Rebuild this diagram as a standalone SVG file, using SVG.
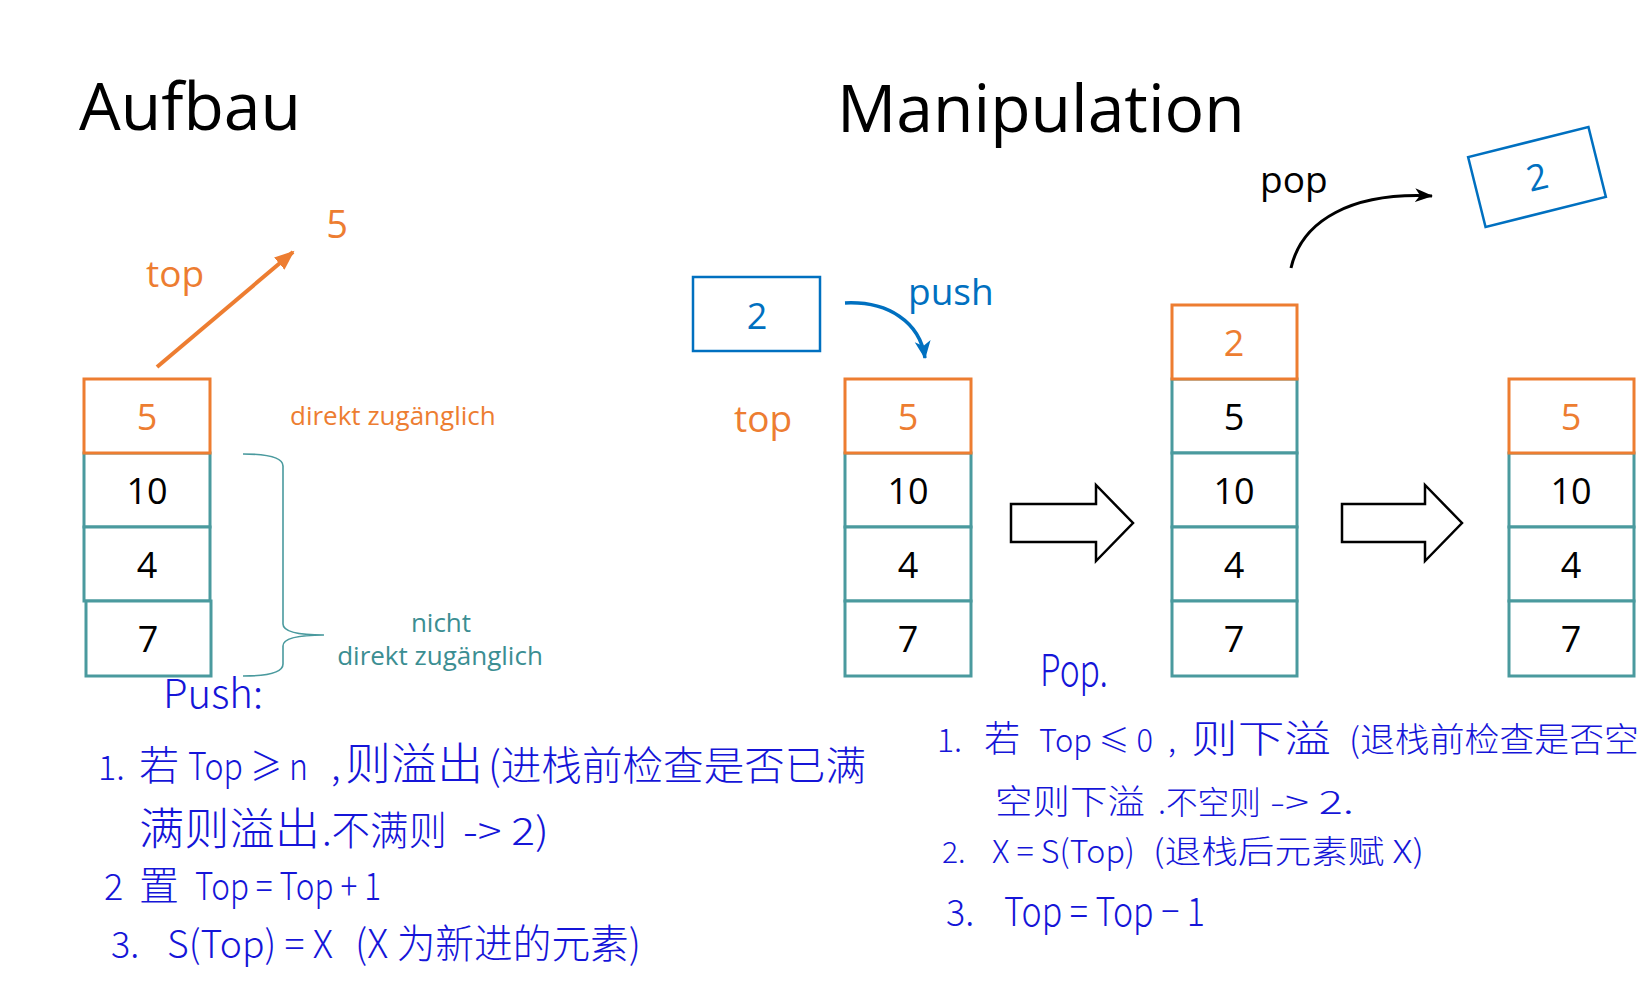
<svg xmlns="http://www.w3.org/2000/svg" width="1652" height="999" viewBox="0 0 1652 999">
<defs>
<style>
.lat{font-family:"Open Sans","Liberation Sans",sans-serif}
.title{font-size:66px;fill:#000}
.num{font-size:36px;text-anchor:middle}
.lbl{font-size:37px}
.or{fill:#ED7D31}
.bk{fill:#000}
.bl{fill:#0070C0}
.tl{fill:#3B8E92}
.bo{fill:#fff;stroke:#ED7D31;stroke-width:3}
.bt{fill:#fff;stroke:#4A9A9E;stroke-width:3}
.bb{fill:#fff;stroke:#0070C0;stroke-width:2.5}
.hw{font-family:"Noto Sans CJK SC","Noto Sans",sans-serif;fill:#1515D8;font-weight:300}
</style>
<marker id="mOr" markerUnits="userSpaceOnUse" markerWidth="22" markerHeight="18" refX="18" refY="9" orient="auto"><path d="M0,1 L20,9 L0,17 z" fill="#ED7D31"/></marker>
<marker id="mBl" markerUnits="userSpaceOnUse" markerWidth="20" markerHeight="18" refX="17" refY="9" orient="auto"><path d="M0,1 L18,9 L0,17 L5,9 z" fill="#0070C0"/></marker>
<marker id="mBk" markerUnits="userSpaceOnUse" markerWidth="20" markerHeight="18" refX="17" refY="9" orient="auto"><path d="M0,2 L18,9 L0,16 L5,9 z" fill="#000"/></marker>
</defs>
<rect width="1652" height="999" fill="#fff"/>

<g id="titles" class="lat">
<text class="title" x="79" y="130">Aufbau</text>
<text class="title" x="837" y="132">Manipulation</text>
</g>

<g id="stack1" class="lat">
<rect class="bt" x="84" y="453" width="126" height="74"/>
<rect class="bt" x="84" y="527" width="126" height="74"/>
<rect class="bt" x="86" y="601" width="125" height="75"/>
<rect class="bo" x="84" y="379" width="126" height="74"/>
<text class="num or" x="147" y="430">5</text>
<text class="num bk" x="147" y="504">10</text>
<text class="num bk" x="147" y="578">4</text>
<text class="num bk" x="148" y="652">7</text>
</g>

<g id="labels-left" class="lat">
<text class="lbl or" x="146" y="287">top</text>
<text class="or" x="337" y="238" font-size="38" text-anchor="middle">5</text>
<text class="or" x="290" y="425" font-size="26">direkt zugänglich</text>
<text class="tl" x="441" y="632" font-size="26" text-anchor="middle">nicht</text>
<text class="tl" x="440" y="665" font-size="26" text-anchor="middle">direkt zugänglich</text>
</g>

<g id="box-push" class="lat">
<rect class="bb" x="693" y="277" width="127" height="74"/>
<text class="num bl" x="757" y="329">2</text>
</g>

<g id="labels-mid" class="lat">
<text class="lbl bl" x="908" y="305">push</text>
<text class="lbl or" x="734" y="432">top</text>
<text class="lbl bk" x="1260" y="193">pop</text>
</g>

<g id="stack2" class="lat">
<rect class="bt" x="845" y="453" width="126" height="74"/>
<rect class="bt" x="845" y="527" width="126" height="74"/>
<rect class="bt" x="845" y="601" width="126" height="75"/>
<rect class="bo" x="845" y="379" width="126" height="74"/>
<text class="num or" x="908" y="430">5</text>
<text class="num bk" x="908" y="504">10</text>
<text class="num bk" x="908" y="578">4</text>
<text class="num bk" x="908" y="652">7</text>
</g>

<g id="stack3" class="lat">
<rect class="bt" x="1172" y="379" width="125" height="74"/>
<rect class="bt" x="1172" y="453" width="125" height="74"/>
<rect class="bt" x="1172" y="527" width="125" height="74"/>
<rect class="bt" x="1172" y="601" width="125" height="75"/>
<rect class="bo" x="1172" y="305" width="125" height="74"/>
<text class="num or" x="1234" y="356">2</text>
<text class="num bk" x="1234" y="430">5</text>
<text class="num bk" x="1234" y="504">10</text>
<text class="num bk" x="1234" y="578">4</text>
<text class="num bk" x="1234" y="652">7</text>
</g>

<g id="stack4" class="lat">
<rect class="bt" x="1509" y="453" width="125" height="74"/>
<rect class="bt" x="1509" y="527" width="125" height="74"/>
<rect class="bt" x="1509" y="601" width="125" height="75"/>
<rect class="bo" x="1509" y="379" width="125" height="74"/>
<text class="num or" x="1571" y="430">5</text>
<text class="num bk" x="1571" y="504">10</text>
<text class="num bk" x="1571" y="578">4</text>
<text class="num bk" x="1571" y="652">7</text>
</g>

<g id="box-popped" class="lat" transform="translate(1537,177) rotate(-14)">
<rect class="bb" x="-62" y="-36" width="124" height="72"/>
<text class="num bl" x="0" y="13">2</text>
</g>

<g id="connectors" fill="none">
<line x1="157" y1="367" x2="293" y2="252" stroke="#ED7D31" stroke-width="4" marker-end="url(#mOr)"/>
<path d="M845,303 C888,301 920,322 925,358" stroke="#0070C0" stroke-width="3.5" marker-end="url(#mBl)"/>
<path d="M1291,268 C1302,220 1352,192 1432,196" stroke="#000" stroke-width="3" marker-end="url(#mBk)"/>
<path d="M243,454 C270,454 283,458 283,466 L283,624 C283,632 300,635 324,635 C300,635 283,638 283,646 L283,664 C283,672 270,676 243,676" stroke="#4A9A9E" stroke-width="1.6"/>
<polygon points="1011,504 1096,504 1096,485 1133,523 1096,561 1096,542 1011,542" fill="#fff" stroke="#000" stroke-width="2.5"/>
<polygon points="1342,504 1425,504 1425,485 1462,523 1425,561 1425,542 1342,542" fill="#fff" stroke="#000" stroke-width="2.5"/>
</g>

<g id="notes-push" class="hw">
<text x="163" y="708" font-size="40" textLength="100" lengthAdjust="spacingAndGlyphs">Push:</text>
<text x="98" y="780" font-size="34">1.</text>
<text x="139" y="780" font-size="40">若</text>
<text x="188" y="780" font-size="38" textLength="120" lengthAdjust="spacingAndGlyphs">Top ≥ n</text>
<text x="331" y="780" font-size="38">,</text>
<text x="345" y="780" font-size="44" textLength="138" lengthAdjust="spacingAndGlyphs">则溢出</text>
<text x="488" y="780" font-size="40" textLength="378" lengthAdjust="spacingAndGlyphs">(进栈前检查是否已满</text>
<text x="139" y="845" font-size="44" textLength="181" lengthAdjust="spacingAndGlyphs">满则溢出</text>
<text x="322" y="845" font-size="40" textLength="125" lengthAdjust="spacingAndGlyphs">.不满则</text>
<text x="463" y="845" font-size="38" textLength="86" lengthAdjust="spacingAndGlyphs">-&gt; 2)</text>
<text x="104" y="900" font-size="36">2</text>
<text x="139" y="900" font-size="40">置</text>
<text x="195" y="900" font-size="38" textLength="186" lengthAdjust="spacingAndGlyphs">Top = Top + 1</text>
<text x="111" y="958" font-size="36">3.</text>
<text x="167" y="958" font-size="38" textLength="166" lengthAdjust="spacingAndGlyphs">S(Top) = X</text>
<text x="355" y="958" font-size="40" textLength="286" lengthAdjust="spacingAndGlyphs">(X 为新进的元素)</text>
</g>

<g id="notes-pop" class="hw">
<text x="1040" y="686" font-size="44" textLength="68" lengthAdjust="spacingAndGlyphs">Pop.</text>
<text x="937" y="752" font-size="32">1.</text>
<text x="984" y="752" font-size="36">若</text>
<text x="1039" y="752" font-size="32" textLength="114" lengthAdjust="spacingAndGlyphs">Top ≤ 0</text>
<text x="1168" y="752" font-size="32">,</text>
<text x="1191" y="752" font-size="38" textLength="140" lengthAdjust="spacingAndGlyphs">则下溢</text>
<text x="1349" y="752" font-size="34" textLength="290" lengthAdjust="spacingAndGlyphs">(退栈前检查是否空</text>
<text x="995" y="814" font-size="34" textLength="150" lengthAdjust="spacingAndGlyphs">空则下溢</text>
<text x="1158" y="814" font-size="32" textLength="103" lengthAdjust="spacingAndGlyphs">.不空则</text>
<text x="1270" y="814" font-size="32" textLength="84" lengthAdjust="spacingAndGlyphs">-&gt; 2.</text>
<text x="942" y="863" font-size="30">2.</text>
<text x="992" y="863" font-size="32" textLength="143" lengthAdjust="spacingAndGlyphs">X = S(Top)</text>
<text x="1153" y="863" font-size="32" textLength="271" lengthAdjust="spacingAndGlyphs">(退栈后元素赋 X)</text>
<text x="946" y="926" font-size="36">3.</text>
<text x="1004" y="926" font-size="40" textLength="201" lengthAdjust="spacingAndGlyphs">Top = Top − 1</text>
</g>
</svg>
